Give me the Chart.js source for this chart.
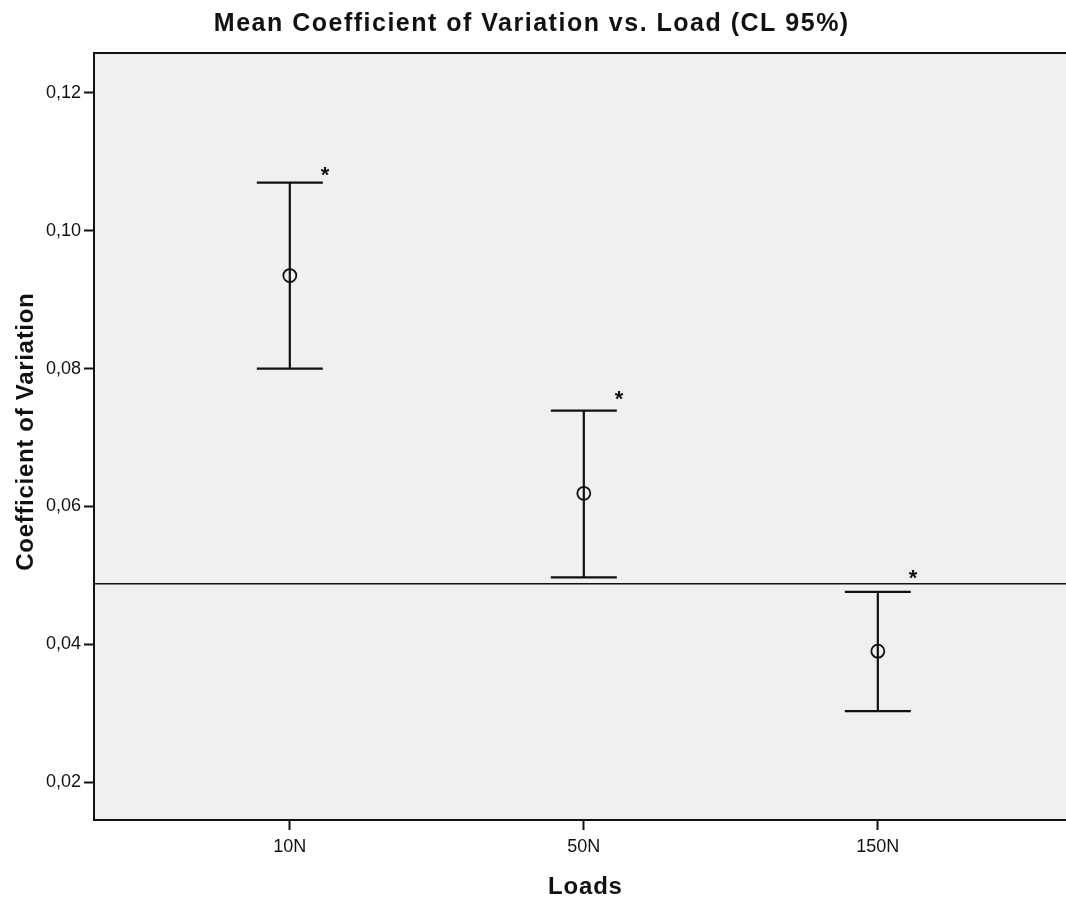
<!DOCTYPE html>
<html>
<head>
<meta charset="utf-8">
<title>Mean Coefficient of Variation vs. Load</title>
<script src="https://cdn.jsdelivr.net/npm/chart.js@4/dist/chart.umd.min.js"></script>
<style>
  html, body { margin: 0; padding: 0; background: #fff; overflow: hidden; }
  #wrap { width: 1066px; height: 899px; }
</style>
</head>
<body>
<div id="wrap"><canvas id="cv"></canvas></div>
<script>
// Loads and the 95% confidence interval of the mean CV per load
const loads = ['10N', '50N', '150N'];
const meanCV = [0.0935, 0.0619, 0.0390];
const lowerCI = [0.0800, 0.0497, 0.0303];
const upperCI = [0.1070, 0.0739, 0.0476];
// significance markers and the horizontal reference value
const starY = [0.1086, 0.0760, 0.0501];
const referenceCV = 0.0488;
const yTicks = [0.02, 0.04, 0.06, 0.08, 0.10, 0.12];

const chartTitle = 'Mean Coefficient of Variation vs. Load (CL 95%)';
const xTitle = 'Loads';
const yTitle = 'Coefficient of Variation';

const FONT = '"Liberation Sans", Arial, sans-serif';
const INK = '#111';

// draws a bold label with a little extra tracking, like the SPSS output
function spacedText(ctx, text, x, y, size, spacing, rotate) {
    ctx.save();
    ctx.translate(x, y);
    if (rotate) ctx.rotate(-Math.PI / 2);
    ctx.font = 'bold ' + size + 'px ' + FONT;
    ctx.letterSpacing = spacing + 'px';
    ctx.fillStyle = INK;
    ctx.textAlign = 'center';
    ctx.textBaseline = 'alphabetic';
    ctx.fillText(text, spacing / 2, 0);
    ctx.restore();
}

// Error bars, reference line, markers, titles and the top frame edge
const intervalPlugin = {
    id: 'intervals',
    beforeDraw(chart) {
        const { ctx, chartArea: a } = chart;
        ctx.save();
        ctx.fillStyle = '#f0f0f0';
        ctx.fillRect(a.left, a.top, a.right - a.left, a.bottom - a.top);
        ctx.restore();
    },
    afterDatasetsDraw(chart) {
        const { ctx, chartArea: a, scales: { x, y } } = chart;
        ctx.save();
        ctx.strokeStyle = INK;

        // reference line across the plot
        const ry = y.getPixelForValue(referenceCV);
        ctx.lineWidth = 1.5;
        ctx.beginPath();
        ctx.moveTo(a.left, ry);
        ctx.lineTo(a.right, ry);
        ctx.stroke();

        ctx.lineWidth = 2.2;
        const capHalf = 33;
        loads.forEach((name, i) => {
            const px = x.getPixelForValue(i);
            const top = y.getPixelForValue(upperCI[i]);
            const bot = y.getPixelForValue(lowerCI[i]);
            ctx.beginPath();
            ctx.moveTo(px, top);
            ctx.lineTo(px, bot);
            ctx.moveTo(px - capHalf, top);
            ctx.lineTo(px + capHalf, top);
            ctx.moveTo(px - capHalf, bot);
            ctx.lineTo(px + capHalf, bot);
            ctx.stroke();

            ctx.fillStyle = INK;
            ctx.font = 'bold 22px ' + FONT;
            ctx.textAlign = 'center';
            ctx.textBaseline = 'middle';
            ctx.fillText('*', x.getPixelForValue(i + 0.12), y.getPixelForValue(starY[i]) + 4);
        });

        // top edge of the frame (right edge runs off the canvas)
        ctx.lineWidth = 2;
        ctx.beginPath();
        ctx.moveTo(a.left - 1, a.top);
        ctx.lineTo(chart.width, a.top);
        ctx.stroke();
        ctx.restore();
    },
    afterDraw(chart) {
        const { ctx } = chart;
        spacedText(ctx, chartTitle, 531, 31, 25, 1.5, false);
        spacedText(ctx, xTitle, 585, 894, 24, 0.8, false);
        spacedText(ctx, yTitle, 33, 432, 24, 0.7, true);
    }
};

new Chart(document.getElementById('cv'), {
    type: 'scatter',
    data: {
        datasets: [{
            label: 'Mean',
            data: meanCV.map((v, i) => ({ x: i, y: v })),
            pointStyle: 'circle',
            pointRadius: 6.5,
            pointHoverRadius: 6.5,
            pointBorderWidth: 1.8,
            pointBorderColor: INK,
            pointBackgroundColor: 'rgba(0,0,0,0)'
        }]
    },
    options: {
        responsive: true,
        maintainAspectRatio: false,
        animation: false,
        layout: { autoPadding: false, padding: { top: 53, left: 0, right: 0, bottom: 0 } },
        plugins: {
            legend: { display: false },
            tooltip: { enabled: false },
            title: { display: false }
        },
        scales: {
            x: {
                type: 'linear',
                min: -0.666,
                max: 2.64,
                afterFit(scale) {
                    scale.height = 79;
                    scale.paddingLeft = 0;
                    scale.paddingRight = 0;
                },
                afterBuildTicks(scale) { scale.ticks = loads.map((_, i) => ({ value: i })); },
                ticks: {
                    color: INK,
                    font: { family: FONT, size: 18 },
                    padding: 6,
                    maxRotation: 0,
                    autoSkip: false,
                    callback: v => loads[v]
                },
                grid: { drawOnChartArea: false, drawTicks: true, tickLength: 10, tickWidth: 2, tickColor: INK },
                border: { display: true, color: INK, width: 2 }
            },
            y: {
                min: 0.0145,
                max: 0.1258,
                afterFit(scale) {
                    scale.width = 94;
                    scale.paddingTop = 0;
                    scale.paddingBottom = 0;
                },
                afterBuildTicks(scale) { scale.ticks = yTicks.map(v => ({ value: v })); },
                ticks: {
                    color: INK,
                    font: { family: FONT, size: 18 },
                    padding: 3,
                    callback: v => v.toFixed(2).replace('.', ',')
                },
                grid: { drawOnChartArea: false, drawTicks: true, tickLength: 10, tickWidth: 2, tickColor: INK },
                border: { display: true, color: INK, width: 2 }
            }
        }
    },
    plugins: [intervalPlugin]
});
</script>
</body>
</html>
